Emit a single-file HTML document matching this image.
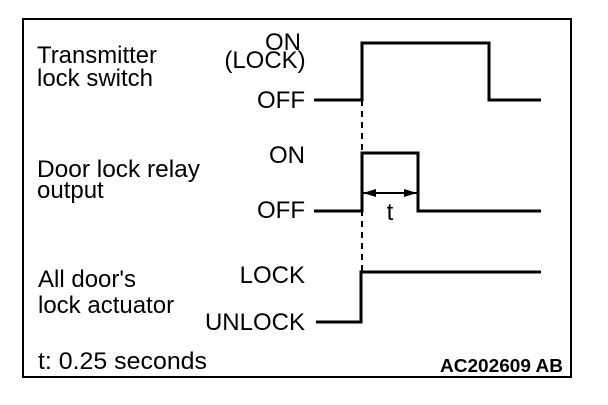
<!DOCTYPE html>
<html><head><style>
html,body{margin:0;padding:0;background:#fff;}
</style></head><body>
<svg width="608" height="400" viewBox="0 0 608 400" xmlns="http://www.w3.org/2000/svg" font-family="Liberation Sans, Arial, sans-serif" fill="#000">
<rect x="23" y="19" width="548" height="358" fill="none" stroke="#000" stroke-width="2"/>
<g font-size="24">
<text x="37" y="63" textLength="120" lengthAdjust="spacingAndGlyphs">Transmitter</text>
<text x="37" y="86">lock switch</text>
<text x="37" y="177" textLength="163" lengthAdjust="spacingAndGlyphs">Door lock relay</text>
<text x="37" y="198">output</text>
<text x="38" y="287">All door's</text>
<text x="38" y="313">lock actuator</text>
<text x="283" y="50" text-anchor="middle">ON</text>
<text x="265" y="68" text-anchor="middle">(LOCK)</text>
<text x="305" y="108" text-anchor="end">OFF</text>
<text x="305" y="163" text-anchor="end">ON</text>
<text x="305" y="218" text-anchor="end">OFF</text>
<text x="305" y="283" text-anchor="end">LOCK</text>
<text x="305" y="330" text-anchor="end">UNLOCK</text>
<text x="390" y="220" text-anchor="middle">t</text>
<text x="38" y="369" textLength="169" lengthAdjust="spacingAndGlyphs">t: 0.25 seconds</text>
</g>
<text x="563" y="372" font-size="18" font-weight="bold" text-anchor="end" textLength="123" lengthAdjust="spacingAndGlyphs">AC202609 AB</text>
<g fill="none" stroke="#000" stroke-width="3">
<polyline points="314,100 362,100 362,43 489,43 489,100 541,100"/>
<polyline points="314,211 362,211 362,153 418,153 418,211 541,211"/>
<polyline points="316,322 361,322 361,272 541,272"/>
</g>
<line x1="362" y1="100" x2="362" y2="272" stroke="#000" stroke-width="2" stroke-dasharray="6,5"/>
<line x1="362" y1="193" x2="418" y2="193" stroke="#000" stroke-width="2"/>
<polygon points="363,193 376,189 376,197"/>
<polygon points="417,193 404,189 404,197"/>
</svg>
</body></html>
